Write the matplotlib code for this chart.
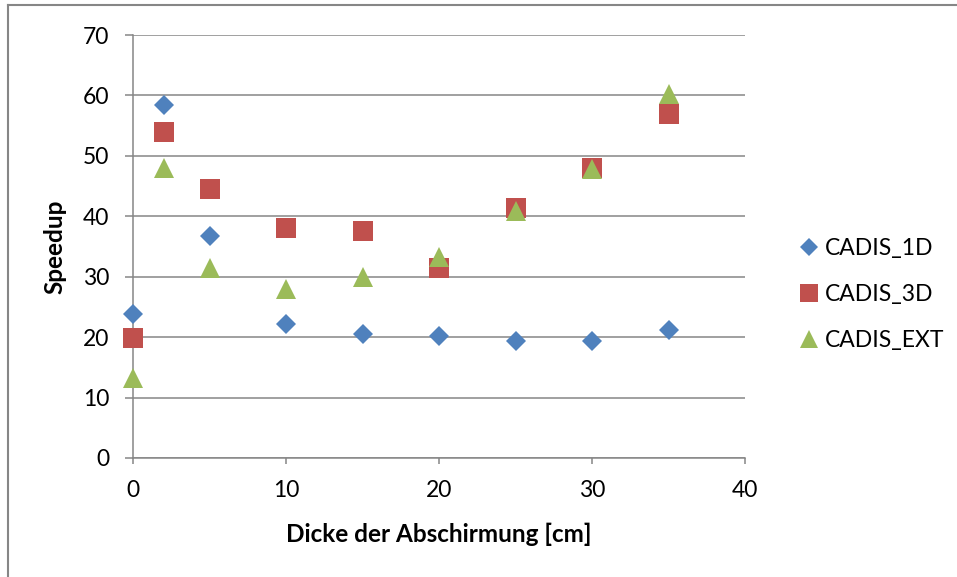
import matplotlib
matplotlib.use("Agg")
import matplotlib.pyplot as plt
from matplotlib.lines import Line2D

plt.rcParams['font.family'] = ['Lato', 'DejaVu Sans']

# Shield thickness [cm] and measured speedups
thickness = [0, 2, 5, 10, 15, 20, 25, 30, 35]
cadis_1d = [23.8, 58.4, 36.8, 22.1, 20.5, 20.2, 19.4, 19.3, 21.2]
cadis_3d = [19.8, 53.9, 44.5, 38.0, 37.5, 31.4, 41.3, 48.0, 57.0]
cadis_ext = [13.2, 48.0, 31.4, 28.0, 30.0, 33.3, 40.8, 47.9, 60.3]

series_names = ["CADIS_1D", "CADIS_3D", "CADIS_EXT"]
x_ticks = [0, 10, 20, 30, 40]
y_ticks = [0, 10, 20, 30, 40, 50, 60, 70]

W, H = 957, 577
fig = plt.figure(figsize=(W / 100, H / 100), dpi=100)
ax = fig.add_axes([133 / W, 1 - 458 / H, (745 - 133) / W, (458 - 35) / H])

grid_col = "#868686"
blue, red, green = "#4F81BD", "#C0504D", "#9BBB59"

ax.plot(thickness, cadis_1d, linestyle="none", marker="D", ms=10.4, color=blue,
        mew=0, clip_on=False, zorder=3, label=series_names[0])
ax.plot(thickness, cadis_3d, linestyle="none", marker="s", ms=14.4, color=red,
        mew=0, clip_on=False, zorder=4, label=series_names[1])
ax.plot(thickness, cadis_ext, linestyle="none", marker="^", ms=14.4, color=green,
        mew=0, clip_on=False, zorder=5, label=series_names[2])

ax.set_xlim(0, 40)
ax.set_ylim(0, 70)
ax.set_xticks(x_ticks)
ax.set_yticks(y_ticks)
ax.yaxis.grid(True, color=grid_col, linewidth=1.1)
ax.set_axisbelow(True)

for s in ["top", "right"]:
    ax.spines[s].set_visible(False)
for s in ["left", "bottom"]:
    ax.spines[s].set_color(grid_col)
    ax.spines[s].set_linewidth(1.1)

ax.tick_params(axis="y", direction="out", length=6, width=1.1, color=grid_col,
               labelsize=16.5, pad=11, labelcolor="black")
ax.tick_params(axis="x", direction="out", length=4.5, width=1.1, color=grid_col,
               labelsize=16.5, pad=11, labelcolor="black")

ax.set_xlabel("Dicke der Abschirmung [cm]", fontsize=17.5, fontweight="bold", labelpad=16)
ax.set_ylabel("Speedup", fontsize=17.5, fontweight="bold", labelpad=12)

handles = [
    Line2D([], [], linestyle="none", marker="D", ms=9, color=blue, mew=0),
    Line2D([], [], linestyle="none", marker="s", ms=12.5, color=red, mew=0),
    Line2D([], [], linestyle="none", marker="^", ms=12.5, color=green, mew=0),
]
fig.legend(handles, series_names, loc="upper left",
           bbox_to_anchor=(787 / W, 1 - 227 / H), frameon=False, fontsize=16.5,
           handlelength=0.9, handletextpad=0.25, labelspacing=1.08, borderpad=0)

# Chart area border (top and left edges)
fig.add_artist(Line2D([8 / W, 1], [1 - 5 / H, 1 - 5 / H], color=grid_col, lw=1.5))
fig.add_artist(Line2D([8 / W, 8 / W], [0, 1 - 5 / H], color=grid_col, lw=1.5))

fig.savefig("out.png", dpi=100)
